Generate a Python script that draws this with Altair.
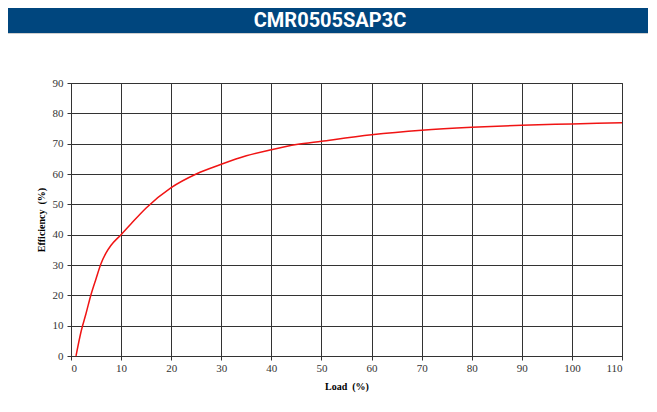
import altair as alt
import pandas as pd

title_text = "CMR0505SAP3C"
x_title = "Load\u00a0 (%)"
y_title = "Efficiency\u00a0 (%)"

load = [1, 2, 3, 4, 5, 6, 7, 8, 10, 12, 15, 20, 25, 30, 35, 40, 45, 50, 60, 70, 80, 90, 100, 110]
efficiency = [0, 8, 14, 20.3, 25.5, 30.5, 34, 36.5, 40, 43.6, 48.8, 55.5, 60, 63.2, 66.0, 68.0, 69.7, 70.8, 72.9, 74.4, 75.4, 76.1, 76.5, 76.9]

x_ticks = list(range(0, 111, 10))
y_ticks = list(range(0, 91, 10))

df = pd.DataFrame({"load": load, "eff": efficiency})

serif = "Liberation Serif"

line = alt.Chart(df).mark_line(color="#f01414", strokeWidth=1.5, interpolate="monotone").encode(
    x=alt.X("load:Q", scale=alt.Scale(domain=[0, 110], nice=False),
            axis=alt.Axis(values=x_ticks, title=x_title, labelPadding=2, titlePadding=8)),
    y=alt.Y("eff:Q", scale=alt.Scale(domain=[0, 90], nice=False),
            axis=alt.Axis(values=y_ticks, title=y_title, labelPadding=4, titlePadding=6)),
)

bar_df = pd.DataFrame({"t": [title_text]})
bar = alt.Chart(bar_df).mark_rect(color="#00467e").encode(
    x=alt.value(-63), x2=alt.value(577), y=alt.value(-75), y2=alt.value(-50)
)
bar_line = alt.Chart(bar_df).mark_rule(color="#cfcfcf", strokeWidth=1).encode(
    x=alt.value(-63), x2=alt.value(577), y=alt.value(-49.5)
)
bar_text = alt.Chart(bar_df).mark_text(
    color="white", font="Roboto",
    fontWeight="bold", fontSize=20, align="center", baseline="middle"
).encode(x=alt.value(259), y=alt.value(-62), text="t:N")

chart = alt.layer(line, bar, bar_line, bar_text).properties(
    width=551, height=273,
    autosize=alt.AutoSizeParams(type="none"),
    padding={"left": 63, "top": 75, "right": 26, "bottom": 47},
    background="white",
).configure_view(
    stroke="#333", strokeWidth=1
).configure_axis(
    grid=True, gridColor="#333", gridOpacity=1, gridWidth=1,
    domainColor="#333", tickColor="#333", tickSize=4,
    labelFont=serif, labelFontSize=11, labelColor="#333",
    titleFont=serif, titleFontSize=10, titleFontWeight="bold", titleColor="#000",
)

chart.save("out.html", embed_options={"renderer": "svg", "actions": False})
